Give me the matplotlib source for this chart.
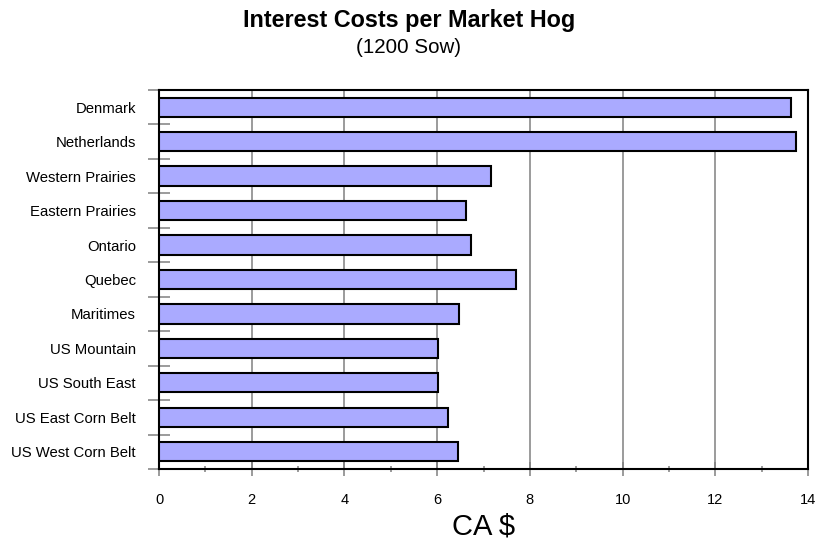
import matplotlib
matplotlib.use('Agg')
import matplotlib.pyplot as plt
import numpy as np

plt.rcParams['font.family'] = ['Liberation Sans', 'DejaVu Sans']

regions = ['Denmark', 'Netherlands', 'Western Prairies', 'Eastern Prairies',
           'Ontario', 'Quebec', 'Maritimes', 'US Mountain', 'US South East',
           'US East Corn Belt', 'US West Corn Belt']
interest_cost = [13.64, 13.73, 7.17, 6.62, 6.74, 7.70, 6.48, 6.01, 6.01, 6.23, 6.45]
x_ticks = [0, 2, 4, 6, 8, 10, 12, 14]

fig = plt.figure(figsize=(8.18, 5.42), dpi=100)
ax = fig.add_axes([0.1944, 0.1347, 0.7934, 0.6993])

pos = np.arange(len(regions))
ax.barh(pos, interest_cost, height=0.56, color='#aaaaff',
        edgecolor='black', linewidth=1.5, zorder=3)

ax.set_xlim(0, 14)
ax.set_ylim(len(regions) - 0.5, -0.5)

# vertical grid behind the bars
ax.set_xticks(x_ticks)
ax.set_xticklabels([str(t) for t in x_ticks])
ax.set_xticks(np.arange(1, 14, 2), minor=True)
ax.grid(axis='x', color='#808080', linewidth=1.1, zorder=0)
ax.tick_params(axis='x', which='major', direction='inout', length=10,
               width=1.1, color='#808080', pad=12, labelsize=10.5)
ax.tick_params(axis='x', which='minor', direction='inout', length=5,
               width=1.1, color='#808080')

# category boundaries get the ticks, labels sit at the centres
ax.set_yticks(np.arange(-0.5, len(regions), 1))
ax.set_yticklabels([])
ax.set_yticks(pos, minor=True)
ax.set_yticklabels(regions, minor=True)
ax.tick_params(axis='y', which='major', direction='inout', length=16.5,
               width=1.1, color='#808080')
ax.tick_params(axis='y', which='minor', length=0, pad=16.5, labelsize=10.7)

for side in ['left', 'right', 'top', 'bottom']:
    ax.spines[side].set_linewidth(1.5)
    ax.spines[side].set_color('black')

fig.text(0.5, 0.9507, 'Interest Costs per Market Hog', ha='center',
         va='baseline', fontsize=16.8, fontweight='bold')
fig.text(0.5, 0.9016, '(1200 Sow)', ha='center', va='baseline', fontsize=14.8)
fig.text(0.591, 0.013, 'CA $', ha='center', va='baseline', fontsize=21)

fig.savefig('out.png', dpi=100)
